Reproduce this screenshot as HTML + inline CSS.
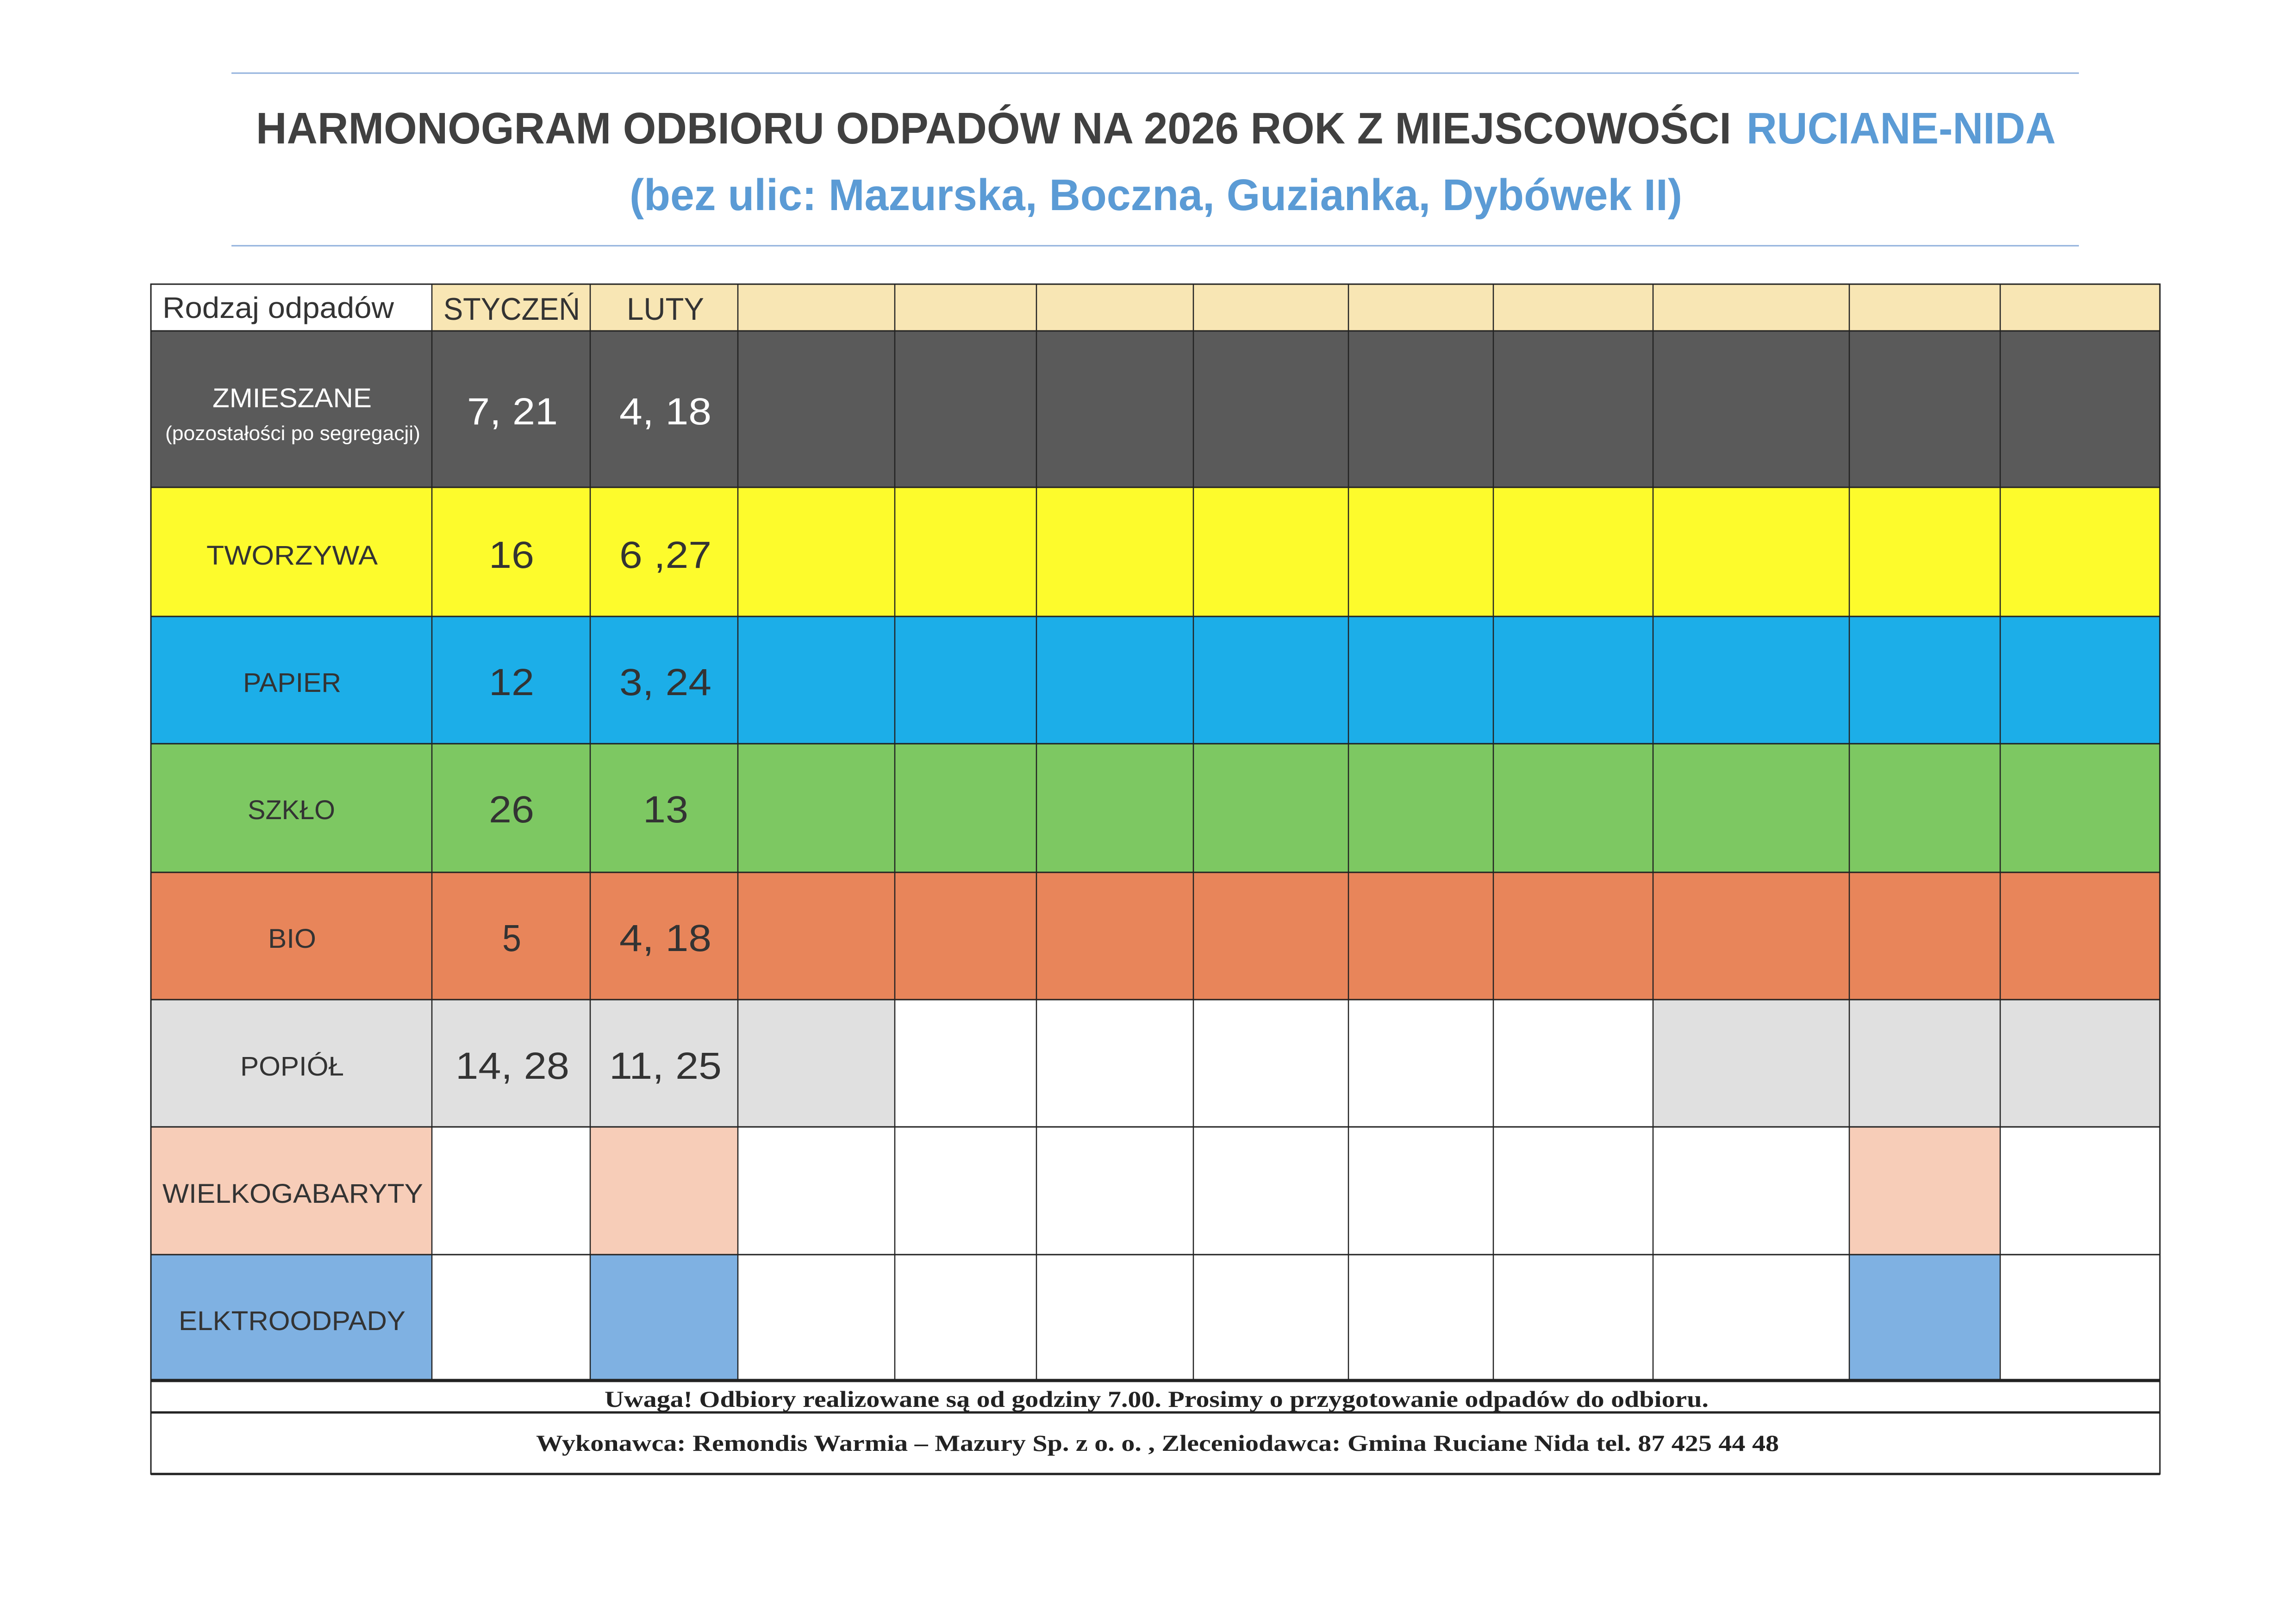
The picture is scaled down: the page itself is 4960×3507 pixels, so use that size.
<!DOCTYPE html>
<html><head><meta charset="utf-8"><style>html,body{margin:0;padding:0;background:#fff}svg{display:block}</style></head>
<body>
<svg width="4960" height="3507" viewBox="0 0 4960 3507" xmlns="http://www.w3.org/2000/svg" font-family="'Liberation Sans', sans-serif">
<rect width="4960" height="3507" fill="#fff"/>
<line x1="500" y1="158" x2="4491" y2="158" stroke="#8fb0dc" stroke-width="3"/>
<line x1="500" y1="531" x2="4491" y2="531" stroke="#8fb0dc" stroke-width="3"/>
<text x="553" y="310" font-size="96" font-weight="bold" fill="#404040" textLength="3187" lengthAdjust="spacingAndGlyphs">HARMONOGRAM ODBIORU ODPADÓW NA 2026 ROK Z MIEJSCOWOŚCI</text>
<text x="3773" y="310" font-size="96" font-weight="bold" fill="#5b9bd5" textLength="668" lengthAdjust="spacingAndGlyphs">RUCIANE-NIDA</text>
<text x="1360" y="454" font-size="96" font-weight="bold" fill="#5b9bd5" textLength="2274" lengthAdjust="spacingAndGlyphs">(bez ulic: Mazurska, Boczna, Guzianka, Dybówek II)</text>

<!-- header row -->
<rect x="933" y="614" width="3733" height="101" fill="#f8e6b4"/>
<!-- rows -->
<rect x="326" y="715" width="4340" height="338" fill="#5a5a5a"/>
<rect x="326" y="1053" width="4340" height="279" fill="#fdfb2c"/>
<rect x="326" y="1332" width="4340" height="275" fill="#1caee8"/>
<rect x="326" y="1607" width="4340" height="278" fill="#7dc862"/>
<rect x="326" y="1885" width="4340" height="275" fill="#e8855a"/>
<rect x="326" y="2160" width="1607" height="275" fill="#e0e0e0"/>
<rect x="3571" y="2160" width="1095" height="275" fill="#e0e0e0"/>
<rect x="326" y="2435" width="607" height="276" fill="#f7cdb8"/>
<rect x="1275" y="2435" width="319" height="276" fill="#f7cdb8"/>
<rect x="3995" y="2435" width="326" height="276" fill="#f7cdb8"/>
<rect x="326" y="2711" width="607" height="272" fill="#7fb1e2"/>
<rect x="1275" y="2711" width="319" height="272" fill="#7fb1e2"/>
<rect x="3995" y="2711" width="326" height="272" fill="#7fb1e2"/>

<g stroke="#222" stroke-width="3" fill="none">
<rect x="326" y="614" width="4340" height="2571"/>
<line x1="326" y1="715" x2="4666" y2="715"/>
<line x1="326" y1="1053" x2="4666" y2="1053"/>
<line x1="326" y1="1332" x2="4666" y2="1332"/>
<line x1="326" y1="1607" x2="4666" y2="1607"/>
<line x1="326" y1="1885" x2="4666" y2="1885"/>
<line x1="326" y1="2160" x2="4666" y2="2160"/>
<line x1="326" y1="2435" x2="4666" y2="2435"/>
<line x1="326" y1="2711" x2="4666" y2="2711"/>
<line x1="326" y1="2983" x2="4666" y2="2983" stroke-width="7"/>
<line x1="326" y1="3052" x2="4666" y2="3052" stroke-width="5"/>
<line x1="326" y1="3185" x2="4666" y2="3185" stroke-width="5"/>
<g stroke-width="2.5">
<line x1="933" y1="614" x2="933" y2="2983"/>
<line x1="1275" y1="614" x2="1275" y2="2983"/>
<line x1="1594" y1="614" x2="1594" y2="2983"/>
<line x1="1933" y1="614" x2="1933" y2="2983"/>
<line x1="2239" y1="614" x2="2239" y2="2983"/>
<line x1="2578" y1="614" x2="2578" y2="2983"/>
<line x1="2913" y1="614" x2="2913" y2="2983"/>
<line x1="3226" y1="614" x2="3226" y2="2983"/>
<line x1="3571" y1="614" x2="3571" y2="2983"/>
<line x1="3995" y1="614" x2="3995" y2="2983"/>
<line x1="4321" y1="614" x2="4321" y2="2983"/>
</g>
</g>

<g fill="#333" lengthAdjust="spacingAndGlyphs">
<text x="351" y="687" font-size="64" textLength="500" lengthAdjust="spacingAndGlyphs">Rodzaj odpadów</text>
<text x="958" y="691" font-size="68" textLength="295" lengthAdjust="spacingAndGlyphs">STYCZEŃ</text>
<text x="1354" y="691" font-size="68" textLength="167" lengthAdjust="spacingAndGlyphs">LUTY</text>
</g>
<g fill="#fff">
<text x="459" y="880" font-size="58" textLength="344" lengthAdjust="spacingAndGlyphs">ZMIESZANE</text>
<text x="357" y="951" font-size="44" textLength="551" lengthAdjust="spacingAndGlyphs">(pozostałości po segregacji)</text>
<text x="1009" y="917" font-size="82" textLength="196" lengthAdjust="spacingAndGlyphs">7, 21</text>
<text x="1338" y="917" font-size="82" textLength="199" lengthAdjust="spacingAndGlyphs">4, 18</text>
</g>
<g fill="#333" font-size="58">
<text x="446" y="1220" textLength="370" lengthAdjust="spacingAndGlyphs">TWORZYWA</text>
<text x="525" y="1495" textLength="212" lengthAdjust="spacingAndGlyphs">PAPIER</text>
<text x="535" y="1770" textLength="189" lengthAdjust="spacingAndGlyphs">SZKŁO</text>
<text x="579" y="2048" textLength="104" lengthAdjust="spacingAndGlyphs">BIO</text>
<text x="519" y="2324" textLength="224" lengthAdjust="spacingAndGlyphs">POPIÓŁ</text>
<text x="351" y="2599" textLength="563" lengthAdjust="spacingAndGlyphs">WIELKOGABARYTY</text>
<text x="386" y="2874" textLength="490" lengthAdjust="spacingAndGlyphs">ELKTROODPADY</text>
</g>
<g fill="#333" font-size="82">
<text x="1056" y="1227" textLength="98" lengthAdjust="spacingAndGlyphs">16</text>
<text x="1338" y="1227" textLength="199" lengthAdjust="spacingAndGlyphs">6 ,27</text>
<text x="1056" y="1502" textLength="98" lengthAdjust="spacingAndGlyphs">12</text>
<text x="1338" y="1502" textLength="199" lengthAdjust="spacingAndGlyphs">3, 24</text>
<text x="1056" y="1777" textLength="98" lengthAdjust="spacingAndGlyphs">26</text>
<text x="1389" y="1777" textLength="98" lengthAdjust="spacingAndGlyphs">13</text>
<text x="1085" y="2055" textLength="41" lengthAdjust="spacingAndGlyphs">5</text>
<text x="1338" y="2055" textLength="199" lengthAdjust="spacingAndGlyphs">4, 18</text>
<text x="984" y="2331" textLength="246" lengthAdjust="spacingAndGlyphs">14, 28</text>
<text x="1316" y="2331" textLength="243" lengthAdjust="spacingAndGlyphs">11, 25</text>
</g>
<g fill="#222" font-family="'Liberation Serif', serif" font-weight="bold" font-size="50">
<text x="1306" y="3040" textLength="2385" lengthAdjust="spacingAndGlyphs">Uwaga! Odbiory realizowane są od godziny 7.00. Prosimy o przygotowanie odpadów do odbioru.</text>
<text x="1158" y="3135" textLength="2685" lengthAdjust="spacingAndGlyphs">Wykonawca: Remondis Warmia – Mazury Sp. z o. o. , Zleceniodawca: Gmina Ruciane Nida tel. 87 425 44 48</text>
</g>
</svg>
</body></html>
